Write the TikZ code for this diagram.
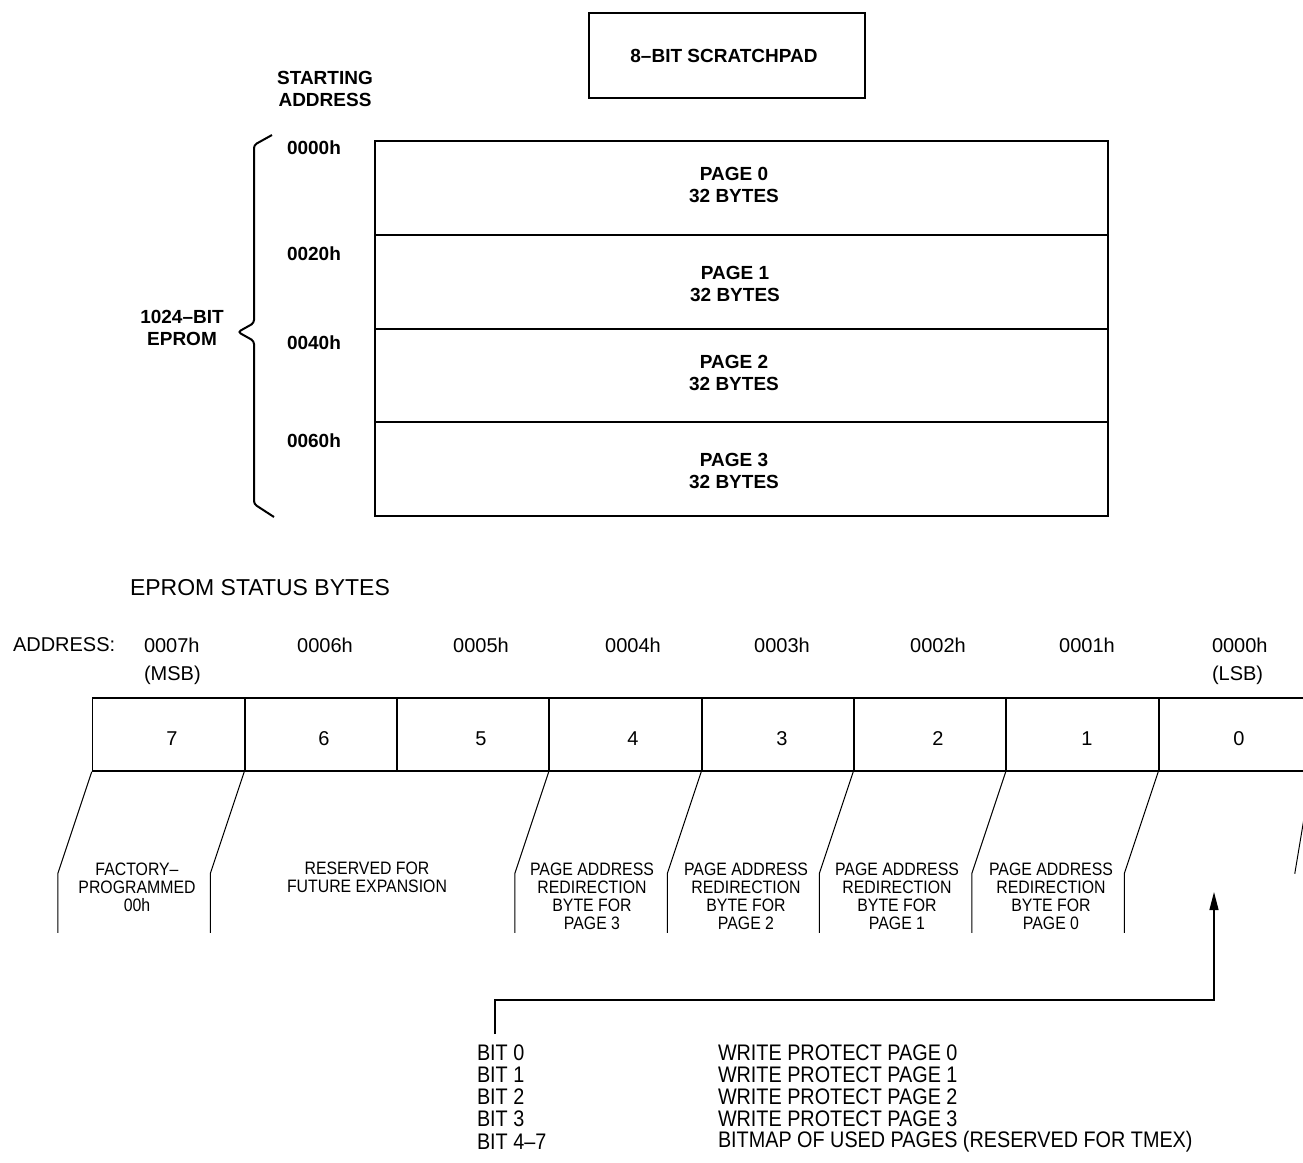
\documentclass[tikz,border=0pt]{standalone}
\usepackage{fontspec}
\setmainfont{Liberation Sans}
\newfontfamily\narrowfont[FakeStretch=0.88]{Liberation Sans}
\usetikzlibrary{arrows.meta}
\begin{document}
\begin{tikzpicture}[x=0.5pt,y=-0.5pt,
  txt/.style={inner sep=0pt, outer sep=0pt},
  boldtxt/.style={txt, font=\fontsize{9.5pt}{11pt}\selectfont\bfseries, align=center},
  regtxt/.style={txt, font=\fontsize{10pt}{12pt}\selectfont},
  celltxt/.style={txt, font=\narrowfont\fontsize{9pt}{9pt}\selectfont, align=center},
  listtxt/.style={txt, font=\narrowfont\fontsize{11.25pt}{11pt}\selectfont},
  pagebox/.style={draw, line width=0.9pt, minimum width=366.5pt, inner sep=0pt},
  bitcell/.style={draw, line width=0.75pt, minimum width=76pt, minimum height=36.5pt, inner sep=0pt},
  slant/.style={line width=0.5pt},
]
\useasboundingbox (0,0) rectangle (1303,1163);

% scratchpad
\node[draw, line width=0.9pt, minimum width=138pt, minimum height=42.5pt] (scratch) at (727,55.5) {};
\node[boldtxt] (scratchlbl) at (724,56) {8–BIT SCRATCHPAD};

\node[boldtxt] (startaddr) at (325,89) {STARTING\\ADDRESS};

% pages
\node[pagebox, minimum height=47pt] (p0) at (741.5,188) {};
\node[pagebox, minimum height=47pt] (p1) at (741.5,282) {};
\node[pagebox, minimum height=46.5pt] (p2) at (741.5,375.5) {};
\node[pagebox, minimum height=47pt] (p3) at (741.5,469) {};
\node[boldtxt] (p0lbl) at (734,185) {PAGE 0\\32 BYTES};
\node[boldtxt] (p1lbl) at (735,284) {PAGE 1\\32 BYTES};
\node[boldtxt] (p2lbl) at (734,373) {PAGE 2\\32 BYTES};
\node[boldtxt] (p3lbl) at (734,471) {PAGE 3\\32 BYTES};

\node[boldtxt, anchor=west] (a0) at (287,148) {0000h};
\node[boldtxt, anchor=west] (a1) at (287,254) {0020h};
\node[boldtxt, anchor=west] (a2) at (287,343) {0040h};
\node[boldtxt, anchor=west] (a3) at (287,441) {0060h};

% brace
\draw[line width=1pt, rounded corners=1.5pt] (272,135) -- (254,145) -- (254,323) -- (238,332) -- (254,341) -- (254,504) -- (274,517);
\node[boldtxt] (eprom) at (182,328) {1024–BIT\\EPROM};

% status bytes
\node[txt, anchor=west, font=\fontsize{11.5pt}{13pt}\selectfont] (stat) at (130,588) {EPROM STATUS BYTES};
\node[regtxt, anchor=west] (addr) at (13,645) {ADDRESS:};
\node[regtxt, anchor=west] (ad7) at (144,645) {0007h};
\node[regtxt, anchor=west] (msb) at (144,675) {(MSB)};
\node[regtxt] (ad6) at (325,645) {0006h};
\node[regtxt] (ad5) at (481,645) {0005h};
\node[regtxt] (ad4) at (633,645) {0004h};
\node[regtxt] (ad3) at (782,645) {0003h};
\node[regtxt] (ad2) at (938,645) {0002h};
\node[regtxt] (ad1) at (1087,645) {0001h};
\node[regtxt, anchor=west] (ad0) at (1212,645) {0000h};
\node[regtxt, anchor=west] (lsb) at (1212,675) {(LSB)};

% bit cells
\node[bitcell] (c7) at (168.5,734.5) {};
\node[bitcell] (c6) at (321,734.5) {};
\node[bitcell] (c5) at (473,734.5) {};
\node[bitcell] (c4) at (625.5,734.5) {};
\node[bitcell] (c3) at (778,734.5) {};
\node[bitcell] (c2) at (930,734.5) {};
\node[bitcell] (c1) at (1082.5,734.5) {};
\node[bitcell] (c0) at (1235,734.5) {};
\node[regtxt] (n7) at (172,739) {7};
\node[regtxt] (n6) at (324,739) {6};
\node[regtxt] (n5) at (481,739) {5};
\node[regtxt] (n4) at (633,739) {4};
\node[regtxt] (n3) at (782,739) {3};
\node[regtxt] (n2) at (938,739) {2};
\node[regtxt] (n1) at (1087,739) {1};
\node[regtxt] (n0) at (1239,739) {0};

% slanted leaders
\foreach \c in {c7,c6,c4,c3,c2,c1,c0}{
  \draw[slant] (\c.south west) -- ++(-34,102) -- ++(0,59);
}
\draw[slant] (c0.south east) -- ++(-17,102);

\node[celltxt] (l7) at (137,887) {FACTORY–\\PROGRAMMED\\00h};
\node[celltxt] (l65) at (367,877) {RESERVED FOR\\FUTURE EXPANSION};
\node[celltxt] (l4) at (592,896) {PAGE ADDRESS\\REDIRECTION\\BYTE FOR\\PAGE 3};
\node[celltxt] (l3) at (746,896) {PAGE ADDRESS\\REDIRECTION\\BYTE FOR\\PAGE 2};
\node[celltxt] (l2) at (897,896) {PAGE ADDRESS\\REDIRECTION\\BYTE FOR\\PAGE 1};
\node[celltxt] (l1) at (1051,896) {PAGE ADDRESS\\REDIRECTION\\BYTE FOR\\PAGE 0};

% arrow
\coordinate (listtop) at (495,1034);
\coordinate (corner) at (1214,1000);
\coordinate (tip) at (1214,892);
\draw[line width=0.6pt, -{Triangle[length=9pt,width=4.5pt]}] (listtop) |- (corner) -- (tip);

% bit list
\node[listtxt, anchor=west] (b0) at (477,1053) {BIT 0};
\node[listtxt, anchor=west] (b1) at (477,1075) {BIT 1};
\node[listtxt, anchor=west] (b2) at (477,1097) {BIT 2};
\node[listtxt, anchor=west] (b3) at (477,1119) {BIT 3};
\node[listtxt, anchor=west] (b4) at (477,1142) {BIT 4–7};
\node[listtxt, anchor=west] (d0) at (718,1053) {WRITE PROTECT PAGE 0};
\node[listtxt, anchor=west] (d1) at (718,1075) {WRITE PROTECT PAGE 1};
\node[listtxt, anchor=west] (d2) at (718,1097) {WRITE PROTECT PAGE 2};
\node[listtxt, anchor=west] (d3) at (718,1119) {WRITE PROTECT PAGE 3};
\node[listtxt, anchor=west] (d4) at (718,1142) {BITMAP OF USED PAGES (RESERVED FOR TMEX)};
\end{tikzpicture}
\end{document}
